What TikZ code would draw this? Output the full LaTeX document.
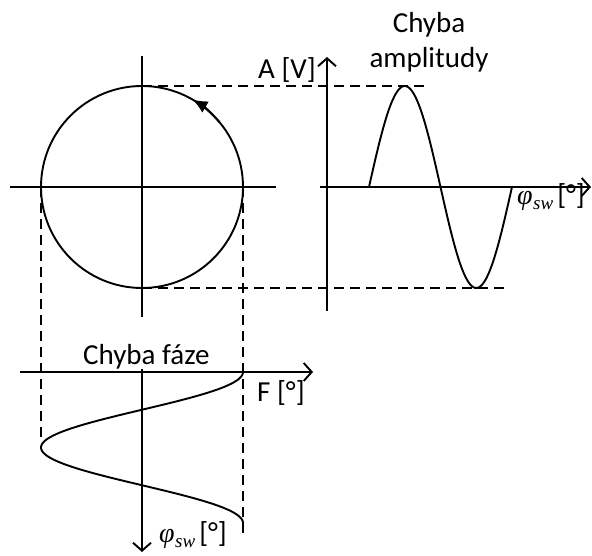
\documentclass[tikz,border=0pt]{standalone}
\usepackage{fontspec}
\setmainfont{Carlito}
\newfontfamily\tnrfont{Liberation Serif}
\newcommand{\phisw}{{\tnrfont\itshape\fontsize{28}{32}\selectfont φ\kern0.5pt\raisebox{-5pt}{\fontsize{19}{22}\selectfont sw}}}
\usetikzlibrary{arrows.meta}
\begin{document}
\begin{tikzpicture}[x=1pt,y=1pt,
  axis/.style={line width=1.9pt},
  axarrow/.style={axis,-{Straight Barb[length=8pt,width=18pt,line width=1.9pt]}},
  guide/.style={line width=1.6pt,dash pattern=on 10pt off 6pt},
  curve/.style={line width=1.9pt},
  lbl/.style={font=\fontsize{29}{34}\selectfont, inner sep=0pt},
]
\useasboundingbox (0,0) rectangle (592,556);
% circle diagram
\coordinate (C) at (142,369);
\coordinate (cl) at (10,369);
\coordinate (cr) at (276,369);
\coordinate (ct) at (142,500);
\coordinate (cb) at (142,239);
\coordinate (ctop) at (142,470);
\coordinate (cbot) at (142,268);
\coordinate (cleft) at (41,369);
\coordinate (cright) at (243,369);
\draw[axis] (cl) -- (cr);
\draw[axis] (cb) -- (ct);
\draw[curve] (C) circle[radius=101];
\draw[curve,-{Latex[length=15pt,width=13pt]}] (C) ++(40:101) arc[start angle=40,end angle=60,radius=101];
% right plot
\coordinate (ra0) at (327,245);
\coordinate (ra1) at (327,499);
\coordinate (rh0) at (320,369);
\coordinate (rh1) at (591,369);
\draw[axarrow] (ra0) -- (ra1);
\draw[axarrow] (rh0) -- (rh1);
\draw[curve] plot[domain=0:1,samples=90,smooth] ({369+143*\x},{369+101*sin(360*\x)});
\coordinate (topend) at (429,470);
\coordinate (botend) at (510,268);
\draw[guide] (ctop) -- (topend);
\draw[guide] (cbot) -- (botend);
% bottom plot
\coordinate (bh0) at (20,184);
\coordinate (bh1) at (313,184);
\coordinate (bv0) at (142,187);
\coordinate (bv1) at (142,4);
\draw[axarrow] (bh0) -- (bh1);
\draw[axarrow] (bv0) -- (bv1);
\draw[curve] plot[domain=0:2,samples=120,smooth] ({142+101*cos(180*\x)},{184-75.5*\x});
\coordinate (ldend) at (41,113);
\coordinate (rdend) at (243,22);
\draw[guide] (cleft) -- (ldend);
\draw[guide] (cright) -- (rdend);
% labels
\node[lbl,anchor=base east] (lA) at (316,477) {A [V]};
\node[lbl,anchor=base] (lCh1) at (429,523) {Chyba};
\node[lbl,anchor=base] (lCh2) at (429,488) {amplitudy};
\node[lbl,anchor=base west] (lphi1) at (517,351) {\phisw\kern4pt[°]};
\node[lbl,anchor=base west] (lChf) at (83,191) {Chyba fáze};
\node[lbl,anchor=base west] (lF) at (257,154) {F [°]};
\node[lbl,anchor=base west] (lphi2) at (159,13) {\phisw\kern4pt[°]};
\end{tikzpicture}
\end{document}
